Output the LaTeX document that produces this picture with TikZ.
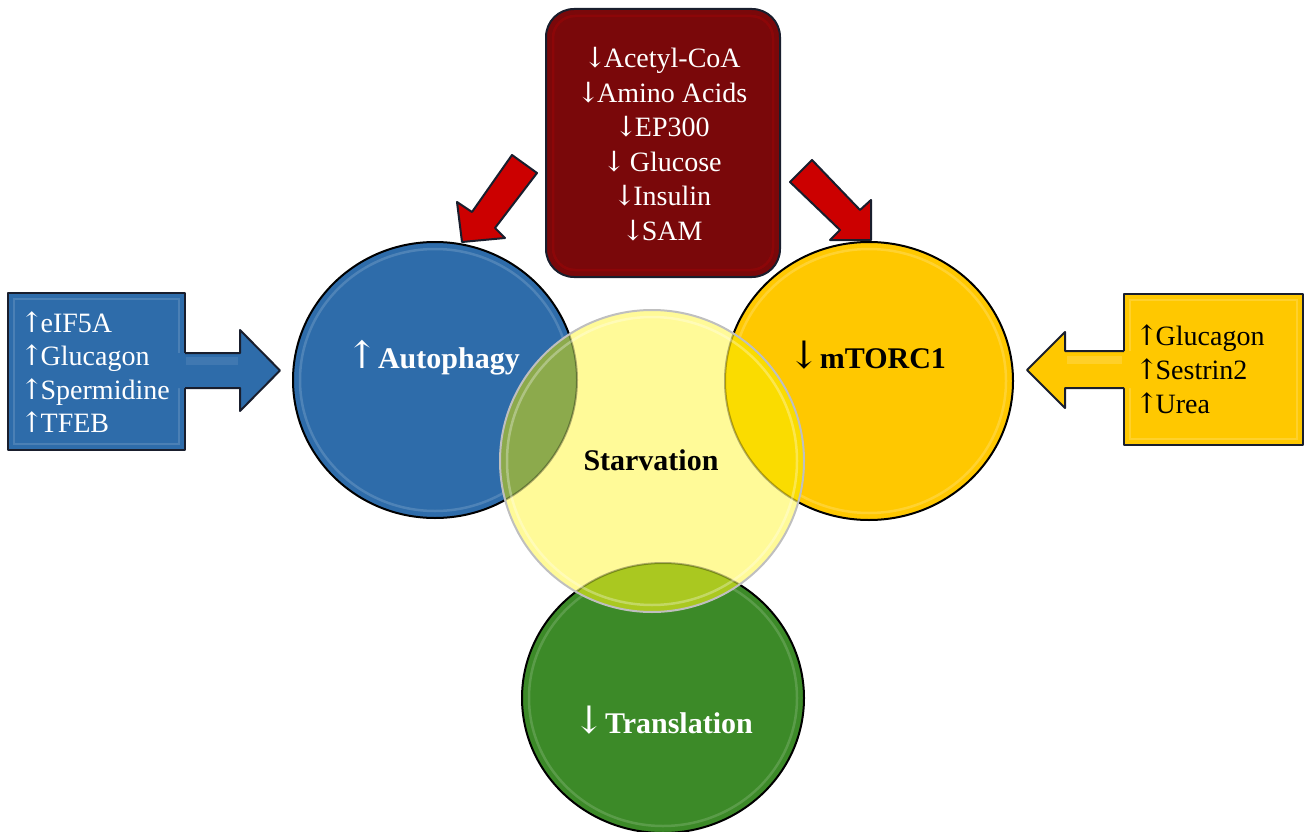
\documentclass[tikz,border=0pt]{standalone}
\usepackage{fontspec}
\setmainfont{Liberation Serif}
\newfontfamily\arrowfont{DejaVu Serif}
\definecolor{redbox}{RGB}{122,8,10}
\definecolor{redarrow}{RGB}{204,0,0}
\definecolor{edge}{RGB}{25,30,45}
\definecolor{blueF}{RGB}{46,108,170}
\definecolor{yellowF}{RGB}{255,200,0}
\definecolor{greenF}{RGB}{60,138,40}
\definecolor{starvF}{RGB}{255,250,152}
\definecolor{lensB}{RGB}{140,170,76}
\definecolor{lensY}{RGB}{250,220,0}
\definecolor{lensG}{RGB}{170,200,32}
\newcommand{\myup}{{\arrowfont\fontsize{28}{34}\selectfont\mdseries ↑}\kern-3pt}
\newcommand{\mydn}{{\arrowfont\fontsize{28}{34}\selectfont\mdseries ↓}\kern-3pt}
\newcommand{\bigup}{{\arrowfont\fontsize{38}{40}\selectfont\mdseries ↑}}
\newcommand{\bigdn}{{\arrowfont\fontsize{38}{40}\selectfont\mdseries ↓}}
\begin{document}
\begin{tikzpicture}[x=1pt,y=-1pt,
  outline/.style={draw=edge, line width=2pt, line join=round},
  boxtext/.style={font=\fontsize{28}{34}\selectfont, inner sep=0pt},
  circtext/.style={font=\fontsize{30}{36}\selectfont\bfseries, inner sep=0pt},
  rim/.style={line width=2.5pt, draw opacity=0.35}]
\useasboundingbox (0,0) rectangle (1304,832);

% ---------- top red box and its arrows ----------
\fill[redarrow] (512,155) -- (537,173) -- (495,228) -- (505,238) -- (462,242) -- (457,202) -- (472,212) -- cycle;
\draw[outline] (512,155) -- (537,173) -- (495,228) -- (505,238) -- (462,242) -- (457,202) -- (472,212) -- cycle;
\fill[redarrow] (812,160) -- (860,210) -- (871,200) -- (871,240) -- (830,240) -- (840,230) -- (790,182) -- cycle;
\draw[outline] (812,160) -- (860,210) -- (871,200) -- (871,240) -- (830,240) -- (840,230) -- (790,182) -- cycle;

\draw[outline, fill=redbox, rounded corners=28pt] (546,9) rectangle (780,277);
\draw[rim, draw=red!40!redbox, rounded corners=22pt] (553,16) rectangle (773,270);

% ---------- left blue box ----------
\draw[outline, fill=blueF] (8,293) rectangle (185,450);
\draw[rim, draw=blueF!60!white] (14,299) rectangle (179,444);
\fill[blueF] (176,353) -- (240,353) -- (240,330) -- (280,370.5) -- (240,411) -- (240,388) -- (176,388) -- cycle;
\fill[blueF!75!white, opacity=0.35] (186,357) -- (238,357) -- (238,365) -- (186,365) -- cycle;
\draw[outline] (185,353) -- (240,353) -- (240,330) -- (280,370.5) -- (240,411) -- (240,388) -- (185,388);

% ---------- right yellow box ----------
\draw[outline, fill=yellowF] (1124,294) rectangle (1303,445);
\draw[rim, draw=yellowF!50!white] (1130,300) rectangle (1297,439);
\fill[yellowF] (1136,351) -- (1065,351) -- (1065,332) -- (1027,370) -- (1065,408) -- (1065,388) -- (1136,388) -- cycle;
\fill[yellowF!55!white, opacity=0.35] (1122,356) -- (1067,356) -- (1067,364) -- (1122,364) -- cycle;
\draw[outline] (1124,351) -- (1065,351) -- (1065,332) -- (1027,370) -- (1065,408) -- (1065,388) -- (1124,388);

% ---------- circles ----------
\draw[outline, draw=black, fill=blueF] (435,380) ellipse [x radius=142, y radius=138];
\draw[rim, draw=blueF!55!white] (435,380) ellipse [x radius=135, y radius=131];
\draw[outline, draw=black, fill=yellowF] (869,381) ellipse [x radius=144, y radius=139];
\draw[rim, draw=yellowF!45!white] (869,381) ellipse [x radius=137, y radius=132];
\draw[outline, draw=black, fill=greenF] (663,698) ellipse [x radius=141, y radius=135];
\draw[rim, draw=greenF!55!white] (663,698) ellipse [x radius=134, y radius=128];

% starvation circle and overlaps
\fill[starvF] (652,461) ellipse [x radius=152, y radius=151];
\begin{scope}
  \clip (652,461) ellipse [x radius=152, y radius=151];
  \fill[lensB] (435,380) ellipse [x radius=142, y radius=138];
  \fill[lensY] (869,381) ellipse [x radius=144, y radius=139];
  \fill[lensG] (663,698) ellipse [x radius=141, y radius=135];
  \draw[line width=2pt, draw=black, draw opacity=0.3] (435,380) ellipse [x radius=142, y radius=138];
  \draw[line width=2pt, draw=black, draw opacity=0.3] (869,381) ellipse [x radius=144, y radius=139];
  \draw[line width=2pt, draw=black, draw opacity=0.3] (663,698) ellipse [x radius=141, y radius=135];
  \draw[rim, draw=white, draw opacity=0.3] (652,461) ellipse [x radius=145, y radius=144];
\end{scope}
\draw[line width=2pt, draw=black!25] (652,461) ellipse [x radius=152, y radius=151];

% ---------- texts ----------
\foreach \t [count=\i] in {Acetyl-CoA, Amino Acids, EP300, { }Glucose, Insulin, SAM}
  \node[boxtext, text=white, anchor=base] (red\i) at (662,{68+34.4*(\i-1)}) {\mydn\t};
\foreach \t [count=\i] in {eIF5A, Glucagon, Spermidine, TFEB}
  \node[boxtext, text=white, anchor=base west] (blue\i) at (20,{332+33.5*(\i-1)}) {\myup\t};
\foreach \t [count=\i] in {Glucagon, Sestrin2, Urea}
  \node[boxtext, text=black, anchor=base west] (yel\i) at (1135,{345+34*(\i-1)}) {\myup\t};

\node[circtext, text=white, anchor=base] (autophagy) at (433,368) {\bigup Autophagy};
\node[circtext, text=black, anchor=base] (mtorc) at (867,368) {\bigdn mTORC1};
\node[circtext, text=black, anchor=base] (starvation) at (651,470) {Starvation};
\node[circtext, text=white, anchor=base] (translation) at (663,733) {\bigdn Translation};
\end{tikzpicture}
\end{document}
